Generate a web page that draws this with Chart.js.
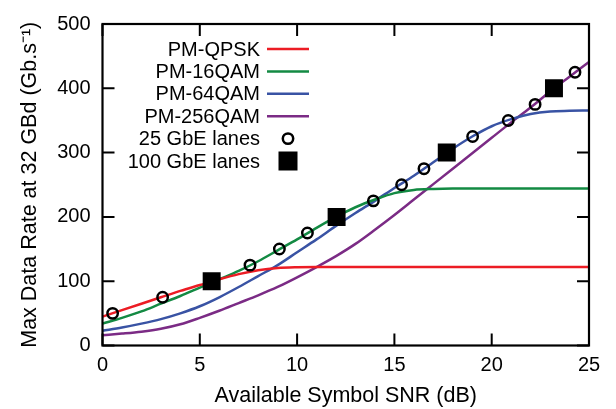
<!DOCTYPE html>
<html><head><meta charset="utf-8">
<script src="https://cdn.jsdelivr.net/npm/chart.js@4"></script>
<style>html,body{margin:0;padding:0;background:#fff}#wrap{width:616px;height:409px}</style>
</head><body><div id="wrap"><canvas id="c" width="616" height="409"></canvas></div>
<script>
// ---- data ----
const snr      = [0,1,2,3,4,5,6,7,8,9,10,11,12,13,14,15,16,17,18,19,20,21,22,23,24,25];
const pmQpsk   = [45,55,65,75,85,94,103,111,117,120.5,121.7,122,122,122,122,122,122,122,122,122,122,122,122,122,122,122];
const pm16qam  = [34,43,53,65,77,90,103,116,131,148,165,183,200,215,227,237,242,243.5,244,244,244,244,244,244,244,244];
const pm64qam  = [23,28,34,41,50,61,75,91,108,125,145,165,186,206,225,245,264,285,306,325,341,352,360,364,365,365.5];
const pm256qam = [16,18.5,21.5,26,33,43,54,66,78,91,106,122,139,158,180,203,227,251,275,299,323,347,370,395,418,441];
const lanes25Snr  = [0.52,3.09,7.58,9.09,10.53,13.92,15.37,16.52,19.02,20.85,22.23,24.28];
const lanes25Rate = [50,75,125,150,175,225,250,275,325,350,375,425];
const lanes100Snr  = [5.61,12.03,17.69,23.2];
const lanes100Rate = [100,200,300,400];
const xTicks = [0,5,10,15,20,25];
const yTicks = [0,100,200,300,400,500];

const FONT = "'Liberation Sans', Arial, Helvetica, sans-serif";
const pts = (xs, ys) => xs.map((x, i) => ({x: x, y: ys[i]}));

const lineDs = (label, ys, color) => ({
  type: 'line', label, data: pts(snr, ys), borderColor: color, backgroundColor: color,
  borderWidth: 2.5, pointRadius: 0, cubicInterpolationMode: 'monotone', fill: false, order: 2
});

const datasets = [
  lineDs('PM-QPSK', pmQpsk, '#ec1c24'),
  lineDs('PM-16QAM', pm16qam, '#138a43'),
  lineDs('PM-64QAM', pm64qam, '#3953a4'),
  lineDs('PM-256QAM', pm256qam, '#7b2b85'),
  { type: 'scatter', label: '25 GbE lanes', data: pts(lanes25Snr, lanes25Rate), pointStyle: 'circle',
    pointRadius: 5.2, borderWidth: 2.5, borderColor: '#000', backgroundColor: 'rgba(0,0,0,0)', showLine: false, order: 1 },
  { type: 'scatter', label: '100 GbE lanes', data: pts(lanes100Snr, lanes100Rate), pointStyle: 'rect',
    pointRadius: 12.7, borderWidth: 0, borderColor: '#000', backgroundColor: '#000', showLine: false, order: 0 }
];

const framePlugin = {
  id: 'frameTicks',
  afterDraw(chart) {
    const ctx = chart.ctx, a = chart.chartArea;
    const xs = chart.scales.x, ys = chart.scales.y;
    const TL = 12;
    ctx.save();
    ctx.strokeStyle = '#000';
    ctx.lineWidth = 2;
    ctx.beginPath();
    xTicks.forEach(v => {
      const p = xs.getPixelForValue(v);
      ctx.moveTo(p, a.bottom); ctx.lineTo(p, a.bottom - TL);
      ctx.moveTo(p, a.top); ctx.lineTo(p, a.top + TL);
    });
    yTicks.forEach(v => {
      const p = ys.getPixelForValue(v);
      ctx.moveTo(a.left, p); ctx.lineTo(a.left + TL, p);
      ctx.moveTo(a.right, p); ctx.lineTo(a.right - TL, p);
    });
    ctx.stroke();
    ctx.lineWidth = 2.2;
    ctx.strokeRect(a.left, a.top, a.right - a.left, a.bottom - a.top);

    // legend (text right-aligned, sample to the right)
    const textX = 260, sx0 = 267, sx1 = 309, y0 = 49, dy = 22.4;
    ctx.font = '20px ' + FONT;
    ctx.fillStyle = '#000';
    ctx.textAlign = 'right';
    ctx.textBaseline = 'middle';
    chart.data.datasets.forEach((ds, i) => {
      const y = y0 + i * dy;
      ctx.fillText(ds.label, textX, y + 1);
      if (ds.type === 'line') {
        ctx.strokeStyle = ds.borderColor; ctx.lineWidth = 2.5;
        ctx.beginPath(); ctx.moveTo(sx0, y); ctx.lineTo(sx1, y); ctx.stroke();
      } else {
        const cx = (sx0 + sx1) / 2;
        if (ds.pointStyle === 'circle') {
          ctx.strokeStyle = '#000'; ctx.lineWidth = 2.5;
          ctx.beginPath(); ctx.arc(cx, y, 5.2, 0, Math.PI * 2); ctx.stroke();
        } else {
          ctx.fillStyle = '#000';
          ctx.fillRect(cx - 9.5, y - 9.5, 19, 19);
        }
      }
    });
    ctx.restore();
  }
};

new Chart(document.getElementById('c'), {
  data: { datasets },
  options: {
    responsive: false, animation: false, devicePixelRatio: 1,
    layout: { padding: { left: 0, top: 19, right: 27, bottom: 0 } },
    plugins: { legend: { display: false }, tooltip: { enabled: false } },
    scales: {
      x: {
        type: 'linear', min: 0, max: 25,
        afterBuildTicks: s => { s.ticks = xTicks.map(v => ({value: v})); },
        afterFit: s => { s.height = 63.5; },
        grid: { display: false, drawTicks: false }, border: { display: false },
        ticks: { font: { size: 20, family: FONT }, color: '#000', padding: 8 },
        title: { display: true, text: 'Available Symbol SNR (dB)', color: '#000',
                 font: { size: 21.5, family: FONT }, padding: { top: 0, bottom: 0 } }
      },
      y: {
        type: 'linear', min: 0, max: 500,
        afterBuildTicks: s => { s.ticks = yTicks.map(v => ({value: v})); },
        afterFit: s => { s.width = 102.5; },
        grid: { display: false, drawTicks: false }, border: { display: false },
        ticks: { font: { size: 20, family: FONT }, color: '#000', padding: 12 },
        title: { display: true, text: 'Max Data Rate at 32 GBd (Gb.s\u207B\u00B9)', color: '#000',
                 font: { size: 21.5, family: FONT }, padding: { top: 17, bottom: 0 } }
      }
    }
  },
  plugins: [framePlugin]
});
</script></body></html>
